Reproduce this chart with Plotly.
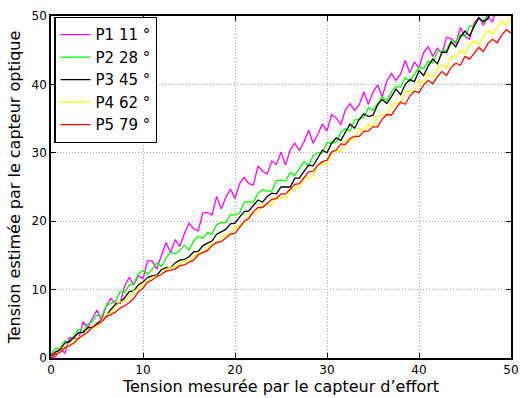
import plotly.graph_objects as go

# Measured tension (force sensor), sampled every 0.5 unit
tension_mesuree = [
    0.0, 0.5, 1.0, 1.5, 2.0, 2.5, 3.0, 3.5, 4.0, 4.5,
    5.0, 5.5, 6.0, 6.5, 7.0, 7.5, 8.0, 8.5, 9.0, 9.5,
    10.0, 10.5, 11.0, 11.5, 12.0, 12.5, 13.0, 13.5, 14.0, 14.5,
    15.0, 15.5, 16.0, 16.5, 17.0, 17.5, 18.0, 18.5, 19.0, 19.5,
    20.0, 20.5, 21.0, 21.5, 22.0, 22.5, 23.0, 23.5, 24.0, 24.5,
    25.0, 25.5, 26.0, 26.5, 27.0, 27.5, 28.0, 28.5, 29.0, 29.5,
    30.0, 30.5, 31.0, 31.5, 32.0, 32.5, 33.0, 33.5, 34.0, 34.5,
    35.0, 35.5, 36.0, 36.5, 37.0, 37.5, 38.0, 38.5, 39.0, 39.5,
    40.0, 40.5, 41.0, 41.5, 42.0, 42.5, 43.0, 43.5, 44.0, 44.5,
    45.0, 45.5, 46.0, 46.5, 47.0, 47.5, 48.0, 48.5, 49.0, 49.5,
    50.0,
]

# Estimated tension (optical sensor) for each sensor position
p1_11 = [
    0.0, 0.2, 1.4, 0.7, 3.0, 2.9, 2.8, 5.3, 4.4, 5.8,
    7.0, 5.5, 7.6, 8.7, 8.0, 8.0, 10.5, 11.8, 10.7, 12.0,
    11.6, 14.2, 14.2, 13.0, 14.9, 16.9, 15.4, 17.3, 16.3, 18.2,
    19.7, 18.9, 18.6, 21.2, 21.3, 20.9, 23.6, 21.8, 23.5, 24.7,
    23.3, 25.5, 26.4, 25.5, 25.3, 28.1, 27.3, 26.9, 28.8, 28.3,
    30.1, 28.2, 30.4, 31.4, 30.3, 31.6, 33.3, 31.4, 32.7, 34.2,
    33.2, 35.6, 35.1, 34.1, 36.3, 37.2, 36.2, 37.0, 38.9, 37.1,
    38.9, 39.9, 38.2, 40.5, 41.6, 40.6, 41.5, 43.5, 41.7, 43.3,
    42.4, 44.7, 45.5, 44.1, 45.3, 44.5, 46.9, 46.7, 46.0, 48.3,
    47.0, 46.6, 49.0, 49.8, 48.7, 49.9, 49.1, 51.7, 51.0, 50.8,
    52.6,
]
p2_28 = [
    0.6, 1.4, 1.4, 2.5, 2.3, 3.3, 4.2, 3.9, 5.0, 5.3,
    6.3, 6.1, 7.6, 8.0, 8.2, 9.7, 9.6, 10.7, 10.8, 12.3,
    12.8, 12.3, 13.0, 13.9, 13.4, 14.6, 15.5, 15.2, 15.7, 16.5,
    15.8, 17.1, 17.8, 17.5, 18.3, 18.1, 19.5, 19.8, 19.8, 21.0,
    20.9, 21.2, 22.8, 22.8, 22.8, 24.1, 24.6, 24.4, 24.4, 25.9,
    26.0, 25.9, 27.1, 26.7, 27.7, 28.7, 28.1, 29.6, 30.0, 30.0,
    31.5, 31.4, 31.6, 33.0, 33.5, 33.2, 34.8, 34.9, 35.2, 36.6,
    36.2, 37.3, 38.2, 37.6, 38.9, 39.7, 39.6, 41.0, 40.4, 41.5,
    42.5, 42.3, 43.4, 43.1, 44.8, 44.9, 45.0, 46.4, 46.3, 47.3,
    47.0, 48.5, 48.6, 49.7, 49.1, 50.3, 51.1, 50.8, 51.7, 52.6,
    52.1,
]
p3_45 = [
    0.3, 0.9, 1.2, 2.2, 2.4, 3.0, 3.7, 3.7, 4.4, 4.5,
    5.1, 5.6, 6.1, 7.1, 7.8, 8.1, 8.8, 9.7, 9.8, 10.7,
    11.1, 11.8, 12.0, 12.1, 12.9, 13.2, 13.2, 13.9, 14.3, 14.4,
    14.8, 15.5, 15.6, 16.4, 16.8, 17.1, 18.1, 18.5, 18.8, 19.6,
    19.7, 20.6, 21.4, 21.5, 22.3, 23.1, 22.8, 23.6, 24.1, 24.0,
    25.0, 25.0, 25.0, 26.3, 26.3, 27.3, 28.2, 28.1, 29.3, 30.4,
    30.0, 31.4, 32.2, 31.8, 33.0, 34.2, 33.6, 34.9, 35.7, 35.3,
    35.5, 37.0, 37.8, 37.2, 38.2, 39.3, 38.5, 40.0, 40.7, 40.4,
    42.0, 41.3, 42.7, 43.7, 43.0, 44.7, 44.7, 46.2, 45.5, 46.9,
    47.8, 47.1, 48.5, 49.7, 49.2, 49.6, 51.3, 51.6, 51.2, 53.0,
    52.7,
]
p4_62 = [
    0.0, 0.6, 0.9, 1.7, 1.8, 2.5, 3.1, 3.2, 3.8, 4.4,
    4.5, 5.5, 6.3, 6.6, 7.5, 8.2, 8.3, 9.1, 9.8, 10.1,
    10.9, 11.0, 11.8, 12.0, 12.2, 13.0, 13.3, 13.3, 13.9, 14.2,
    14.0, 14.8, 15.4, 15.4, 16.0, 16.8, 16.7, 17.6, 18.0, 18.1,
    19.1, 19.3, 19.6, 20.8, 21.2, 21.3, 22.4, 22.4, 22.4, 23.6,
    23.5, 23.3, 24.5, 24.8, 25.0, 26.4, 26.3, 26.7, 28.2, 28.4,
    28.4, 29.9, 30.3, 30.2, 31.7, 31.8, 32.0, 33.6, 33.3, 34.2,
    33.8, 35.4, 35.5, 35.4, 37.0, 37.4, 37.2, 38.9, 38.9, 39.0,
    40.5, 40.2, 41.6, 41.0, 42.2, 42.9, 42.4, 44.0, 43.9, 45.1,
    44.5, 45.8, 46.4, 45.8, 47.0, 47.9, 47.4, 48.3, 49.3, 48.6,
    49.9,
]
p5_79 = [
    0.0, 0.6, 0.8, 1.5, 1.8, 2.2, 2.9, 3.3, 3.8, 4.5,
    4.9, 5.3, 6.0, 6.3, 6.7, 7.3, 7.6, 8.1, 8.7, 9.7,
    10.2, 11.1, 11.4, 11.9, 12.2, 12.7, 12.9, 13.0, 13.5, 13.6,
    14.0, 14.3, 15.1, 15.4, 15.7, 16.4, 16.9, 17.0, 17.5, 18.1,
    18.2, 19.1, 20.0, 20.4, 21.4, 22.0, 22.0, 22.6, 23.2, 23.3,
    24.0, 24.0, 24.7, 25.4, 25.5, 26.3, 27.2, 27.3, 28.2, 28.7,
    28.9, 30.1, 30.4, 31.3, 31.2, 32.1, 32.4, 32.4, 33.1, 33.2,
    33.8, 33.8, 34.9, 35.6, 35.5, 36.5, 37.4, 37.1, 38.3, 39.0,
    38.8, 39.9, 40.6, 40.1, 41.1, 41.9, 41.3, 42.5, 43.1, 42.8,
    44.1, 43.7, 44.6, 45.4, 44.8, 46.0, 46.6, 46.1, 47.2, 48.0,
    47.5,
]

series_names = ["P1 11 °", "P2 28 °", "P3 45 °", "P4 62 °", "P5 79 °"]
series_values = [p1_11, p2_28, p3_45, p4_62, p5_79]
series_colors = ["#ff00ff", "#00ff00", "#000000", "#ffff00", "#ff0000"]

tick_values = [0, 10, 20, 30, 40, 50]

fig = go.Figure()
for name, values, color in zip(series_names, series_values, series_colors):
    fig.add_trace(go.Scatter(
        x=tension_mesuree, y=values, mode="lines", name=name,
        line=dict(color=color, width=1.3),
    ))

axis_common = dict(
    range=[0, 50], tickvals=tick_values, ticks="inside", ticklen=5,
    tickcolor="black", tickwidth=1, showline=True, linecolor="black",
    linewidth=1.5, mirror="ticks", showgrid=True, gridcolor="#a8a8a8",
    griddash="1px,2px", gridwidth=1, zeroline=False,
    tickfont=dict(family="DejaVu Sans", size=12, color="black"),
)

fig.update_layout(
    width=528, height=398,
    margin=dict(l=51, r=9, t=11, b=40),
    paper_bgcolor="white", plot_bgcolor="white",
    font=dict(family="DejaVu Sans", color="black"),
    xaxis=dict(**axis_common,
               title=dict(text="Tension mesurée par le capteur d’effort",
                          font=dict(size=16), standoff=1)),
    yaxis=dict(**axis_common,
               title=dict(text="Tension estimée par le capteur optique",
                          font=dict(size=16), standoff=7)),
    legend=dict(
        x=0.007, y=0.997, xanchor="left", yanchor="top",
        bgcolor="white", bordercolor="black", borderwidth=1.3,
        font=dict(family="DejaVu Sans", size=15, color="black"),
        tracegroupgap=0, itemwidth=30,
    ),
    showlegend=True,
)

fig.write_html("out.html")
